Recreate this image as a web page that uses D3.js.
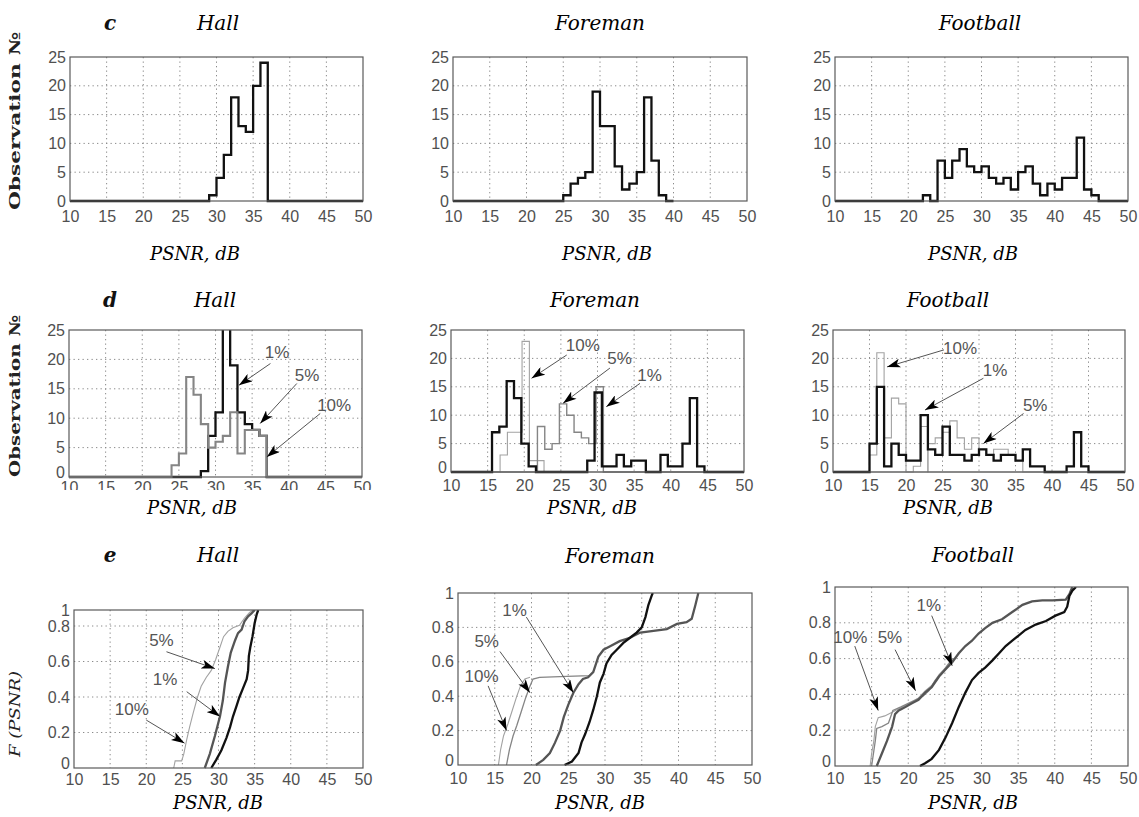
<!DOCTYPE html>
<html>
<head>
<meta charset="utf-8">
<script src="https://cdn.jsdelivr.net/npm/d3@7"></script>
<style>
  body { margin: 0; background: #fff; }
  svg { display: block; }
  .tick text { font-family: "Liberation Sans", Arial, sans-serif; font-size: 16px; fill: #505050; }
  .title { font-family: "DejaVu Serif", serif; font-style: italic; font-size: 20px; fill: #000; }
  .xlabel { font-family: "DejaVu Serif", serif; font-style: italic; font-size: 18px; fill: #000; }
  .letter { font-family: "DejaVu Serif", serif; font-style: italic; font-weight: bold; font-size: 20px; fill: #111; }
  .ylabel { font-family: "DejaVu Serif", serif; font-weight: bold; font-size: 15px; fill: #222; }
  .pct { font-family: "Liberation Sans", Arial, sans-serif; font-size: 17px; fill: #555; }
</style>
</head>
<body>
<div id="chart"></div>
<script>
// ---- tick values ----
const xTicks = [10, 15, 20, 25, 30, 35, 40, 45, 50];
const histTicks = [0, 5, 10, 15, 20, 25];
const cdfTicks = [0, 0.2, 0.4, 0.6, 0.8, 1];
const cdfTickLabels = ["0", "0.2", "0.4", "0.6", "0.8", "1"];

// ---- row c: histograms, 1 dB bins (start = left edge of first bin) ----
const hallCStart = 29;
const hallC = [1, 4, 8, 18, 13, 12, 20, 24];
const foremanCStart = 25;
const foremanC = [1, 3, 4, 5, 19, 13, 13, 6, 2, 3, 5, 18, 7, 1];
const footballCStart = 22;
const footballC = [1, 0, 7, 4, 7, 9, 6, 5, 6, 4, 3, 4, 2, 5, 6, 3, 1, 3, 2, 4, 4, 11, 2, 1];

// ---- row d: histograms for 1%, 5%, 10% losses ----
const hallD1Start = 28;
const hallD1 = [1, 7, 11, 30, 19, 11, 9, 8, 7];
const hallD5Start = 24;
const hallD5 = [2, 4, 17, 14, 9, 5, 6, 7, 11, 4, 8, 8, 7];

const foremanD1Start = 15.6;
const foremanD1 = [7, 8, 16, 13, 5, 1, 0, 0, 0, 0, 0, 0, 0, 2, 14, 1, 1, 3, 1, 2, 2, 0, 0, 3, 1, 1, 5, 13, 1];
const foremanD10Start = 16.7;
const foremanD10 = [3, 7, 7, 23, 2, 2];
const foremanD5Start = 21.8;
const foremanD5 = [8, 4, 5, 12, 10, 7, 6, 5, 15];

const footballD1Start = 15;
const footballD1 = [5, 15, 1, 5, 3, 2, 2, 10, 4, 3, 8, 3, 3, 2, 3, 4, 3, 2, 3, 3, 2, 4, 1, 1, 0, 0, 0, 1, 7, 1];
const footballD10Start = 15;
const footballD10 = [3, 21, 6, 13, 12, 0, 1, 8];
const footballD5Start = 23;
const footballD5 = [5, 6, 7, 9, 6, 4, 6, 4, 3, 4, 4, 3, 2];

// ---- row e: empirical CDFs [PSNR, F] ----
const hallE0 = [[29.0,0],[29.7,0.047],[30.4,0.10],[31.1,0.17],[31.6,0.23],[32.0,0.29],[32.5,0.35],[32.9,0.40],[33.4,0.45],[33.9,0.50],[34.1,0.55],[34.2,0.63],[34.4,0.68],[34.7,0.74],[35.0,0.835],[35.3,0.95],[35.5,1]];
const hallE1 = [[28.1,0],[28.8,0.08],[29.5,0.18],[30.2,0.29],[30.6,0.38],[30.9,0.48],[31.3,0.57],[31.7,0.65],[32.3,0.72],[32.7,0.76],[33.2,0.78],[33.6,0.86],[34.1,0.92],[34.6,0.96],[35.0,1]];
const hallE5 = [[23.8,0],[24.0,0.04],[24.9,0.04],[25.2,0.08],[25.6,0.16],[26.0,0.23],[26.5,0.31],[27.1,0.40],[27.6,0.46],[28.3,0.51],[29.0,0.55],[29.6,0.61],[30.2,0.68],[30.7,0.74],[31.3,0.77],[32.0,0.79],[32.9,0.81],[33.6,0.90],[34.3,0.97],[34.8,1]];

const foremanE0 = [[24.5,0],[25.5,0.02],[26.4,0.07],[26.8,0.13],[27.3,0.18],[27.9,0.25],[28.4,0.32],[28.9,0.40],[29.3,0.48],[29.8,0.53],[30.2,0.59],[30.9,0.64],[31.6,0.67],[32.5,0.71],[33.4,0.74],[34.3,0.77],[35.0,0.80],[35.5,0.86],[35.9,0.93],[36.4,0.99],[36.5,1]];
const foremanE1 = [[20.6,0],[21.6,0.03],[22.5,0.07],[23.2,0.13],[23.9,0.20],[24.4,0.28],[25.0,0.35],[25.7,0.42],[26.4,0.47],[27.0,0.50],[27.7,0.51],[28.4,0.54],[29.1,0.63],[29.8,0.67],[30.7,0.69],[32.0,0.72],[33.4,0.74],[34.8,0.77],[36.6,0.78],[38.4,0.79],[39.8,0.82],[41.1,0.83],[41.8,0.85],[42.3,0.93],[42.7,1]];
const foremanE5 = [[16.6,0],[17.0,0.09],[17.5,0.17],[18.0,0.23],[18.6,0.31],[19.2,0.39],[19.8,0.46],[20.2,0.50],[21.1,0.51],[24.8,0.515],[27.9,0.52],[28.4,0.54]];
const foremanE10 = [[15.5,0],[15.8,0.09],[16.2,0.17],[16.8,0.24],[17.4,0.32],[18.0,0.40],[18.5,0.46],[19.1,0.50],[19.8,0.51]];

const footballE0 = [[21.6,0],[22.3,0.015],[23.2,0.04],[24.2,0.09],[25.1,0.16],[26.0,0.24],[26.9,0.33],[27.8,0.41],[28.7,0.48],[29.6,0.52],[30.5,0.55],[31.5,0.59],[32.4,0.63],[33.3,0.67],[34.2,0.70],[35.1,0.73],[36.0,0.76],[37.4,0.79],[38.8,0.81],[40.1,0.84],[41.3,0.86],[41.7,0.89],[42.0,0.95],[42.4,0.98],[42.9,1]];
const footballE1 = [[15.7,0],[16.4,0.07],[17.1,0.14],[17.8,0.22],[18.2,0.29],[18.7,0.31],[19.6,0.33],[20.5,0.35],[21.4,0.37],[22.3,0.41],[23.2,0.44],[24.2,0.50],[25.1,0.54],[26.0,0.58],[26.9,0.63],[27.8,0.67],[28.7,0.70],[29.6,0.74],[30.5,0.77],[31.5,0.80],[32.8,0.82],[34.2,0.86],[35.6,0.90],[36.9,0.92],[38.3,0.925],[39.7,0.925],[41.5,0.93],[42.0,0.96],[42.4,1]];
const footballE5 = [[15.0,0],[15.5,0.14],[15.7,0.21],[16.4,0.22],[17.3,0.24],[17.9,0.31],[19.0,0.33],[20.5,0.36],[22.0,0.39],[22.8,0.42],[23.7,0.48],[24.6,0.52],[25.5,0.57],[26.3,0.60]];
const footballE10 = [[14.8,0],[15.0,0.07],[15.3,0.14],[15.5,0.22],[15.9,0.27],[16.8,0.28],[17.8,0.30],[18.7,0.32],[19.6,0.34],[20.5,0.35],[21.4,0.38],[22.3,0.42],[23.2,0.45],[24.2,0.51],[25.1,0.55],[26.0,0.60]];

// line styles
const STY = {
  k: { stroke: "#111", width: 2.3 },
  d: { stroke: "#555", width: 2.3 },
  g: { stroke: "#858585", width: 1.8 },
  l: { stroke: "#a2a2a2", width: 1.1 }
};

function hist(start, counts, lo, hi) {
  const pts = [[lo, 0]];
  counts.forEach((c, i) => pts.push([start + i, c]));
  pts.push([start + counts.length, 0]);
  pts.push([hi, 0]);
  return pts;
}

// panel layout: frame box [left, right, top, bottom]
const panels = [
  { box: [70, 363, 57, 201], kind: "hist", title: "Hall", titleX: 218, titleY: 30, letter: "c",
    xlabY: 260, xlabX: 195, ylab: "Observation №", ylabY: 121, ylabLen: 178, tickPad: 9.5,
    series: [{ pts: hist(hallCStart, hallC, 10, 50), s: "k" }], notes: [] },
  { box: [453, 747, 57, 201], kind: "hist", title: "Foreman", titleX: 600, titleY: 30,
    xlabY: 260, xlabX: 607, tickPad: 9.5,
    series: [{ pts: hist(foremanCStart, foremanC, 10, 40), s: "k" }], notes: [] },
  { box: [835, 1128, 57, 201], kind: "hist", title: "Football", titleX: 980, titleY: 30,
    xlabY: 260, xlabX: 973, tickPad: 9.5,
    series: [{ pts: hist(footballCStart, footballC, 10, 50), s: "k" }], notes: [] },

  { box: [69, 362, 330, 477], kind: "hist", title: "Hall", titleX: 215, titleY: 307, letter: "d",
    xlabY: 514, xlabX: 192, ylab: "Observation №", ylabY: 396, ylabLen: 162, tickPad: 5, tickClip: 490,
    series: [{ pts: hist(hallD1Start, hallD1, 10, 50), s: "k" },
             { pts: hist(hallD5Start, hallD5, 10, 50), s: "g", w: 2.1 }],
    notes: [["1%", 38.4, 21.3, 37.5, 19.3, 33.2, 15.6], ["5%", 42.5, 17.3, 41.1, 15.9, 36.1, 9.1], ["10%", 46.2, 12.2, 44.3, 10.8, 37, 3.4]] },
  { box: [451, 744, 330, 472], kind: "hist", title: "Foreman", titleX: 595, titleY: 307,
    xlabY: 514, xlabX: 592, tickPad: 7.5,
    series: [{ pts: hist(foremanD10Start, foremanD10, 10, 50), s: "l" },
             { pts: hist(foremanD5Start, foremanD5, 10, 50), s: "g", w: 1.4 },
             { pts: hist(foremanD1Start, foremanD1, 10, 50), s: "k" }],
    notes: [["10%", 28.0, 22.4, 25.8, 20.6, 21.0, 16.5], ["5%", 33.0, 20.0, 31.7, 18.3, 25.3, 12.1], ["1%", 37.1, 17.1, 35.8, 15.6, 31.2, 11.5]] },
  { box: [833, 1125, 330, 472], kind: "hist", title: "Football", titleX: 948, titleY: 307,
    xlabY: 514, xlabX: 948, tickPad: 7.5,
    series: [{ pts: hist(footballD10Start, footballD10, 10, 50), s: "l" },
             { pts: hist(footballD5Start, footballD5, 10, 50), s: "l" },
             { pts: hist(footballD1Start, footballD1, 10, 50), s: "k" }],
    notes: [["10%", 27.4, 21.8, 25.2, 21.5, 17.4, 18.5], ["1%", 32.2, 17.9, 30.6, 16.5, 22.6, 10.9], ["5%", 37.7, 11.8, 36.1, 10.3, 30.6, 5.0]] },

  { box: [74, 363, 610, 768], kind: "cdf", yBreak: 626, title: "Hall", titleX: 218, titleY: 562, letter: "e",
    xlabY: 809, xlabX: 218, ylab: "F (PSNR)", ylabY: 714, ylabLen: 86, ylabItalic: true, tickPad: 6,
    series: [{ pts: hallE5, s: "l" }, { pts: hallE1, s: "d" }, { pts: hallE0, s: "k" }],
    notes: [["5%", 22.1, 0.72, 22.8, 0.655, 29.5, 0.56], ["1%", 22.6, 0.50, 25.6, 0.43, 30.2, 0.29], ["10%", 18.0, 0.33, 20.0, 0.27, 25.3, 0.14]] },
  { box: [458, 752, 593, 765], kind: "cdf", title: "Foreman", titleX: 610, titleY: 563,
    xlabY: 809, xlabX: 600, tickPad: 7.5,
    series: [{ pts: foremanE10, s: "l" }, { pts: foremanE5, s: "g", w: 1.3 }, { pts: foremanE1, s: "d" }, { pts: foremanE0, s: "k" }],
    notes: [["1%", 17.7, 0.90, 19.3, 0.86, 25.7, 0.42], ["5%", 13.9, 0.72, 15.7, 0.66, 19.8, 0.42], ["10%", 13.2, 0.52, 14.1, 0.46, 16.6, 0.20]] },
  { box: [835, 1128, 587, 766], kind: "cdf", title: "Football", titleX: 973, titleY: 562,
    xlabY: 809, xlabX: 973, tickPad: 7,
    series: [{ pts: footballE10, s: "l" }, { pts: footballE5, s: "g", w: 1.3 }, { pts: footballE1, s: "d" }, { pts: footballE0, s: "k" }],
    notes: [["1%", 22.8, 0.90, 23.2, 0.84, 26.0, 0.56], ["10%", 12.1, 0.72, 12.7, 0.67, 15.9, 0.31], ["5%", 17.5, 0.72, 18.2, 0.65, 21.0, 0.42]] }
];

const svg = d3.select("#chart").append("svg")
  .attr("width", 1139)
  .attr("height", 817);

const defs = svg.append("defs");
defs.append("marker")
  .attr("id", "head")
  .attr("viewBox", "0 0 12 8")
  .attr("refX", 12).attr("refY", 4)
  .attr("markerWidth", 14).attr("markerHeight", 9)
  .attr("markerUnits", "userSpaceOnUse")
  .attr("orient", "auto")
  .append("path")
  .attr("d", "M0,0 L12,4 L0,8 L3,4 Z")
  .attr("fill", "#000");

panels.forEach((p, i) => {
  const [x0, x1, y0, y1] = p.box;
  const x = d3.scaleLinear().domain([10, 50]).range([x0, x1]);
  let y;
  if (p.kind === "hist") y = d3.scaleLinear().domain([0, 25]).range([y1, y0]);
  else if (p.yBreak) y = d3.scaleLinear().domain([0, 0.8, 1]).range([y1, p.yBreak, y0]);
  else y = d3.scaleLinear().domain([0, 1]).range([y1, y0]);
  const yt = p.kind === "hist" ? histTicks : cdfTicks;

  const g = svg.append("g");

  // dotted grid
  g.selectAll(".vg").data(xTicks.slice(1, -1)).enter().append("line")
    .attr("x1", d => x(d)).attr("x2", d => x(d))
    .attr("y1", y0).attr("y2", y1)
    .attr("stroke", "#8a8a8a").attr("stroke-width", 1)
    .attr("stroke-dasharray", "1.3,3.2");
  g.selectAll(".hg").data(yt.slice(1, -1)).enter().append("line")
    .attr("x1", x0).attr("x2", x1)
    .attr("y1", d => y(d)).attr("y2", d => y(d))
    .attr("stroke", "#8a8a8a").attr("stroke-width", 1)
    .attr("stroke-dasharray", "1.3,3.2");

  // clip for data
  defs.append("clipPath").attr("id", "clip" + i)
    .append("rect").attr("x", x0 - 2).attr("y", y0).attr("width", x1 - x0 + 4).attr("height", y1 - y0 + 2);

  const line = d3.line().x(d => x(d[0])).y(d => y(d[1]));
  if (p.kind === "hist") line.curve(d3.curveStepAfter);

  const dg = g.append("g").attr("clip-path", `url(#clip${i})`);
  p.series.forEach(s => {
    dg.append("path")
      .attr("d", line(s.pts))
      .attr("fill", "none")
      .attr("stroke", STY[s.s].stroke)
      .attr("stroke-width", s.w || STY[s.s].width)
      .attr("stroke-linejoin", "miter");
  });

  // frame
  g.append("rect")
    .attr("x", x0).attr("y", y0)
    .attr("width", x1 - x0).attr("height", y1 - y0)
    .attr("fill", "none").attr("stroke", "#5a5a5a").attr("stroke-width", 1.2);

  // axes (labels only)
  const xa = g.append("g")
    .attr("transform", `translate(0,${y1})`)
    .call(d3.axisBottom(x).tickValues(xTicks).tickSize(0).tickPadding(p.tickPad).tickFormat(d3.format("d")));
  xa.select(".domain").remove();
  if (p.tickClip) {
    defs.append("clipPath").attr("id", "tclip" + i)
      .append("rect").attr("x", x0 - 30).attr("y", 0).attr("width", x1 - x0 + 60).attr("height", p.tickClip - y1);
    xa.attr("clip-path", `url(#tclip${i})`);
  }

  const ya = g.append("g")
    .attr("transform", `translate(${x0},0)`)
    .call(d3.axisLeft(y).tickValues(yt).tickSize(0).tickPadding(4)
      .tickFormat((d, k) => p.kind === "hist" ? String(d) : cdfTickLabels[k]));
  ya.select(".domain").remove();
  // lift the corner "0" a little so it clears the first x label
  if (p.tickPad < 9) {
    ya.selectAll(".tick text").filter(d => d === 0).attr("dy", "0.02em");
  }

  // titles & labels
  g.append("text").attr("class", "title")
    .attr("x", p.titleX).attr("y", p.titleY)
    .attr("text-anchor", "middle").text(p.title);
  if (p.letter) {
    g.append("text").attr("class", "letter")
      .attr("x", 110).attr("y", p.titleY)
      .attr("text-anchor", "middle").text(p.letter);
  }
  g.append("text").attr("class", "xlabel")
    .attr("x", p.xlabX).attr("y", p.xlabY)
    .attr("text-anchor", "middle").text("PSNR, dB");
  if (p.ylab) {
    g.append("text").attr("class", "ylabel")
      .attr("transform", `translate(20,${p.ylabY}) rotate(-90)`)
      .attr("text-anchor", "middle")
      .attr("textLength", p.ylabLen)
      .attr("lengthAdjust", "spacingAndGlyphs")
      .style("font-style", p.ylabItalic ? "italic" : "normal")
      .style("font-weight", p.ylabItalic ? "normal" : "bold")
      .text(p.ylab);
  }

  // arrow annotations
  p.notes.forEach(n => {
    const [lab, lx, ly, ax1, ay1, ax2, ay2] = n;
    g.append("line")
      .attr("x1", x(ax1)).attr("y1", y(ay1))
      .attr("x2", x(ax2)).attr("y2", y(ay2))
      .attr("stroke", "#555").attr("stroke-width", 1)
      .attr("marker-end", "url(#head)");
    g.append("text").attr("class", "pct")
      .attr("x", x(lx)).attr("y", y(ly))
      .attr("dy", "0.35em")
      .attr("text-anchor", "middle")
      .text(lab);
  });
});
</script>
</body>
</html>
